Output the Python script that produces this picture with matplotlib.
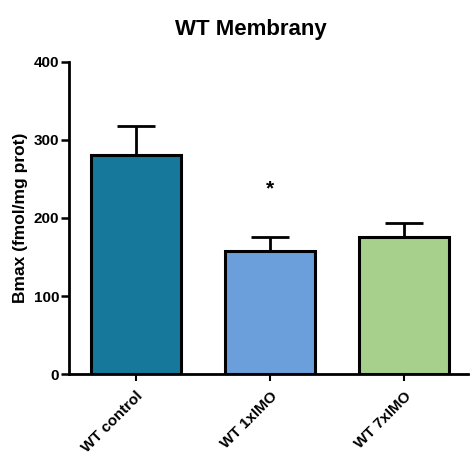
import matplotlib.pyplot as plt

plt.rcParams['font.family'] = ['Liberation Sans', 'DejaVu Sans']

# Bmax per group, mean and SEM
groups = ['WT control', 'WT 1xIMO', 'WT 7xIMO']
bmax = [281, 158, 176]
sem = [37, 17, 18]
colors = ['#16799b', '#6a9fdc', '#a6d08b']
star_y = 237

fig = plt.figure(figsize=(4.70, 4.59), dpi=100)
ax = fig.add_axes([69 / 470, 1 - 374 / 459, 399 / 470, 312 / 459])

x = range(len(groups))
ax.bar(x, bmax, width=0.67, color=colors, edgecolor='black', linewidth=2.2, zorder=2)
ax.errorbar(x, bmax, yerr=[[0] * len(sem), sem], fmt='none', ecolor='black',
            elinewidth=2, capsize=14, capthick=2, zorder=1)
ax.text(1, star_y, '*', ha='center', va='center', fontsize=15, fontweight='bold')

ax.set_xlim(-0.5, 2.48)
ax.set_ylim(0, 400)
ax.set_yticks([0, 100, 200, 300, 400])
ax.set_xticks(list(x))
ax.set_xticklabels(groups, rotation=45, ha='right', rotation_mode='anchor',
                   fontsize=11, fontweight='bold')
for lab in ax.get_yticklabels():
    lab.set_fontweight('bold')
    lab.set_fontsize(11)
ax.tick_params(axis='y', width=1.8, length=6, direction='out', pad=1)
ax.tick_params(axis='x', width=1.5, length=5, direction='out', pad=6)
ax.spines['top'].set_visible(False)
ax.spines['right'].set_visible(False)
ax.spines['left'].set_linewidth(2)
ax.spines['bottom'].set_linewidth(2)
ax.set_ylabel('Bmax (fmol/mg prot)', fontsize=12.5, fontweight='bold', labelpad=4)

fig.text(251 / 470, 1 - 30 / 459, 'WT Membrany', ha='center', va='center',
         fontsize=16, fontweight='bold')

fig.savefig('out.png', dpi=100)
